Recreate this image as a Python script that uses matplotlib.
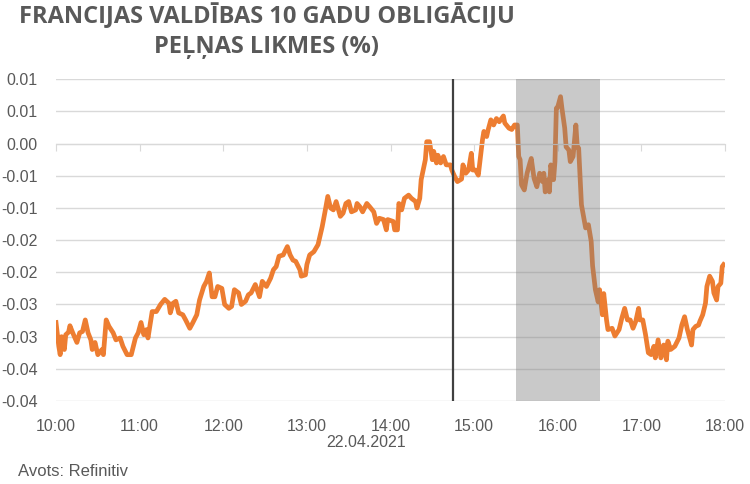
#import libraries
import numpy as np
import matplotlib
matplotlib.use("Agg")
from matplotlib import pyplot as plt

plt.rcParams['font.family'] = ['Liberation Sans', 'DejaVu Sans']

#data: minutes after 10:00 and yield (in thousandths of a percent point)
minutes = [0, 2, 3, 4, 6, 7, 9, 10, 12, 15,
           17, 19, 21, 23, 25, 26, 28, 30, 33, 34,
           36, 38, 41, 43, 46, 48, 51, 54, 57, 59,
           61, 63, 65, 66, 69, 72, 75, 78, 81, 82,
           84, 86, 88, 91, 93, 96, 98, 101, 103, 106,
           108, 110, 112, 114, 116, 119, 121, 124, 126, 128,
           131, 133, 136, 138, 140, 143, 146, 148, 151, 154,
           156, 158, 160, 163, 166, 168, 170, 172, 175, 176,
           179, 180, 182, 185, 188, 191, 193, 195, 197, 199,
           201, 204, 206, 208, 210, 212, 215, 216, 218, 220,
           223, 225, 228, 230, 232, 235, 237, 238, 242, 243,
           245, 246, 248, 250, 253, 255, 258, 259, 261, 262,
           265, 266, 268, 270, 271, 273, 274, 276, 278, 280,
           283, 284, 286, 288, 291, 292, 294, 296, 298, 299,
           301, 303, 306, 307, 309, 310, 312, 314, 316, 318,
           321, 322, 325, 327, 329, 331, 332, 333, 334, 336,
           338, 340, 341, 343, 345, 347, 349, 350, 351, 353,
           354, 355, 357, 358, 359, 360, 362, 363, 365, 366,
           368, 369, 371, 373, 374, 375, 377, 380, 382, 384,
           385, 387, 389, 390, 392, 393, 395, 396, 399, 401,
           404, 406, 408, 410, 412, 414, 416, 418, 419, 421,
           423, 425, 427, 429, 430, 432, 434, 436, 438, 439,
           441, 444, 447, 449, 451, 453, 456, 457, 459, 461,
           462, 464, 466, 467, 469, 471, 472, 474, 475, 477,
           478, 479]
yield_milli = [-27.8, -31.5, -32.8, -30.0, -32.0, -29.7, -29.3, -28.3, -29.4, -30.9,
               -29.4, -29.2, -27.4, -29.4, -30.5, -32.0, -30.9, -32.8, -32.0, -32.8,
               -27.4, -28.4, -29.4, -30.5, -30.2, -31.5, -32.8, -32.8, -30.2, -29.4,
               -27.8, -29.7, -28.9, -30.2, -26.1, -26.1, -25.0, -24.2, -24.8, -26.3,
               -24.8, -24.5, -26.3, -26.6, -27.4, -28.7, -27.9, -26.6, -24.3, -22.2,
               -21.4, -20.1, -23.8, -23.8, -22.2, -22.5, -25.0, -25.6, -25.3, -22.7,
               -23.2, -25.0, -24.5, -23.5, -23.2, -21.9, -23.8, -21.4, -22.2, -20.9,
               -19.6, -19.1, -17.5, -17.3, -16.0, -17.3, -18.1, -18.3, -19.6, -20.6,
               -20.4, -18.8, -17.3, -16.8, -15.7, -12.9, -10.6, -8.2, -10.0, -10.3,
               -9.0, -11.3, -10.8, -9.3, -9.0, -10.6, -10.3, -9.3, -9.8, -10.6,
               -9.3, -9.8, -10.6, -12.4, -11.6, -11.8, -13.4, -11.8, -12.1, -13.4,
               -13.4, -9.3, -10.3, -8.5, -8.0, -8.5, -9.0, -10.0, -8.5, -5.6,
               -2.5, 0.3, 0.3, -2.5, -1.2, -3.0, -1.8, -3.0, -2.0, -3.3,
               -3.3, -4.1, -5.1, -5.9, -5.5, -3.3, -4.6, -4.1, -1.5, -4.1,
               -4.1, -4.9, 0.6, 1.9, 1.1, 2.1, 3.7, 2.9, 3.9, 3.4,
               4.3, 3.2, 2.4, 2.2, 2.9, 2.9, -2.0, -2.5, -6.4, -7.2,
               -4.6, -3.0, -2.3, -5.4, -6.7, -4.6, -5.9, -4.6, -7.5, -5.6,
               -7.5, -3.3, -5.6, -2.8, 5.5, 5.7, 7.3, 5.5, 2.4, -0.5,
               -1.0, -2.8, -2.0, 2.9, -0.5, -0.7, -9.5, -13.1, -12.6, -15.2,
               -19.0, -22.7, -24.6, -22.7, -26.6, -23.3, -27.4, -28.9, -28.7, -29.9,
               -28.9, -27.1, -25.6, -27.4, -27.4, -28.7, -27.6, -25.6, -27.4, -27.4,
               -29.7, -32.5, -32.8, -31.5, -33.3, -30.5, -33.3, -31.3, -33.6, -30.7,
               -32.0, -31.5, -30.2, -28.2, -26.9, -28.9, -31.3, -28.9, -28.4, -28.2,
               -27.6, -26.6, -24.8, -22.2, -20.6, -21.4, -23.2, -24.3, -22.2, -21.7,
               -19.1, -18.8]
yields = np.array(yield_milli) / 1000

x_ticks = [0, 60, 120, 180, 240, 300, 360, 420, 480]
x_labels = ["10:00", "11:00", "12:00", "13:00", "14:00", "15:00", "16:00", "17:00", "18:00"]
y_ticks = [0.01, 0.005, 0.0, -0.005, -0.01, -0.015, -0.02, -0.025, -0.03, -0.035, -0.04]
y_labels = ["0.01", "0.01", "0.00", "-0.01", "-0.01", "-0.02", "-0.02", "-0.03", "-0.03", "-0.04", "-0.04"]

event_time = 285          # 14:45
band_start, band_end = 330, 390   # 15:30 - 16:30

title1 = "FRANCIJAS VALDĪBAS 10 GADU OBLIGĀCIJU"
title2 = "PEĻŅAS LIKMES (%)"
date_label = "22.04.2021"
source = "Avots: Refinitiv"

grey_txt = "#595959"
fs = 11.5

#define the output graph
fig = plt.figure(figsize=(7.5, 4.84), dpi=100)
ax = fig.add_axes([56/750, 1-401/484, (725-56)/750, (401-79.3)/484])

ax.plot(minutes, yields, color="#ED7D31", lw=3.4, zorder=2, solid_joinstyle="round")
ax.axvspan(band_start, band_end, color="#7F7F7F", alpha=0.42, lw=0, zorder=3)
ax.axvline(event_time, color="#404040", lw=1.6, zorder=4)

ax.set_xlim(0, 480)
ax.set_ylim(-0.04, 0.01)
ax.set_yticks(y_ticks, y_labels)
ax.grid(axis="y", color="#D9D9D9", lw=1)
ax.set_axisbelow(True)

for s in ["top", "right", "left"]:
    ax.spines[s].set_visible(False)
ax.spines["bottom"].set_position(("data", 0))
ax.spines["bottom"].set_color("#D9D9D9")
ax.set_xticks(x_ticks)
ax.tick_params(axis="x", length=5, color="#D9D9D9", labelbottom=False)
ax.tick_params(axis="y", length=0, pad=13, labelsize=fs, labelcolor=grey_txt)

for t, lab in zip(x_ticks, x_labels):
    ax.text(t, -0.078, lab, transform=ax.get_xaxis_transform(), ha="center", va="center",
            fontsize=fs, color=grey_txt)
ax.text(0.463, -0.128, date_label, transform=ax.transAxes, ha="center", va="center",
        fontsize=fs, color=grey_txt)

fig.text(267/750, 1-16/484, title1, ha="center", va="center", fontsize=17,
         fontweight="bold", family="Open Sans", color=grey_txt)
fig.text(267/750, 1-47/484, title2, ha="center", va="center", fontsize=17,
         fontweight="bold", family="Open Sans", color=grey_txt)
fig.text(18/750, 1-471/484, source, ha="left", va="center", fontsize=12, color=grey_txt)

fig.savefig("out.png", dpi=100)
